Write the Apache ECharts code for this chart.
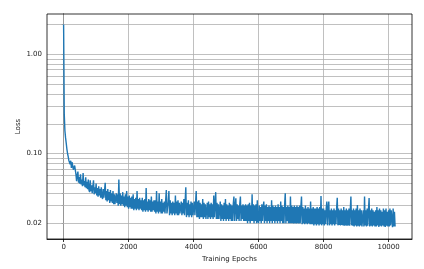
<!DOCTYPE html>
<html>
<head>
<meta charset="utf-8">
<script src="https://cdn.jsdelivr.net/npm/echarts@6/dist/echarts.min.js"></script>
<style>
html,body{margin:0;padding:0;background:#fff;}
#chart{width:424px;height:269px;}
</style>
</head>
<body>
<div id="chart"></div>
<script>
// Sampled every EPOCH_STEP epochs, starting at epoch 0
const EPOCH_STEP = 20;
const lossValues = [
  2.0, 0.25, 0.17, 0.145, 0.128, 0.112, 0.101, 0.094, 0.086, 0.090, 0.078, 0.085, 0.072, 0.082, 0.079, 0.069, 0.066, 0.076, 0.074, 0.062,
  0.053, 0.061, 0.066, 0.051, 0.058, 0.050, 0.062, 0.049, 0.055, 0.047, 0.064, 0.048, 0.053, 0.046, 0.058, 0.045, 0.052, 0.044, 0.055, 0.043,
  0.041, 0.054, 0.042, 0.048, 0.040, 0.047, 0.054, 0.039, 0.046, 0.040, 0.050, 0.038, 0.045, 0.037, 0.047, 0.038, 0.044, 0.036, 0.046, 0.037,
  0.035, 0.044, 0.036, 0.043, 0.051, 0.034, 0.042, 0.033, 0.044, 0.034, 0.041, 0.032, 0.043, 0.033, 0.040, 0.032, 0.042, 0.031, 0.039, 0.031,
  0.031, 0.040, 0.032, 0.039, 0.030, 0.055, 0.031, 0.040, 0.030, 0.038, 0.031, 0.041, 0.030, 0.037, 0.029, 0.039, 0.030, 0.042, 0.029, 0.037,
  0.028, 0.038, 0.029, 0.036, 0.028, 0.037, 0.028, 0.039, 0.027, 0.035, 0.028, 0.036, 0.027, 0.042, 0.028, 0.035, 0.027, 0.036, 0.028, 0.034,
  0.027, 0.036, 0.026, 0.034, 0.027, 0.035, 0.026, 0.045, 0.027, 0.033, 0.026, 0.035, 0.027, 0.034, 0.026, 0.037, 0.026, 0.033, 0.027, 0.034,
  0.026, 0.034, 0.025, 0.042, 0.026, 0.033, 0.025, 0.040, 0.026, 0.033, 0.025, 0.035, 0.025, 0.032, 0.026, 0.033, 0.025, 0.034, 0.043, 0.025,
  0.025, 0.033, 0.042, 0.024, 0.034, 0.025, 0.032, 0.024, 0.033, 0.025, 0.032, 0.024, 0.038, 0.025, 0.033, 0.024, 0.034, 0.024, 0.032, 0.025,
  0.024, 0.033, 0.024, 0.032, 0.025, 0.035, 0.024, 0.033, 0.046, 0.023, 0.032, 0.024, 0.034, 0.023, 0.031, 0.024, 0.033, 0.023, 0.032, 0.024,
  0.023, 0.033, 0.024, 0.032, 0.042, 0.023, 0.033, 0.023, 0.034, 0.022, 0.032, 0.023, 0.031, 0.023, 0.035, 0.022, 0.032, 0.023, 0.031, 0.022,
  0.023, 0.032, 0.022, 0.033, 0.023, 0.031, 0.022, 0.032, 0.023, 0.031, 0.022, 0.038, 0.023, 0.031, 0.041, 0.022, 0.032, 0.022, 0.031, 0.022,
  0.022, 0.033, 0.021, 0.031, 0.022, 0.030, 0.021, 0.032, 0.022, 0.035, 0.021, 0.031, 0.022, 0.030, 0.021, 0.032, 0.022, 0.031, 0.021, 0.030,
  0.021, 0.031, 0.037, 0.021, 0.030, 0.0355, 0.021, 0.031, 0.022, 0.030, 0.021, 0.031, 0.037, 0.021, 0.030, 0.022, 0.031, 0.021, 0.030, 0.021,
  0.031, 0.021, 0.030, 0.020, 0.031, 0.021, 0.032, 0.020, 0.030, 0.021, 0.039, 0.021, 0.031, 0.020, 0.030, 0.021, 0.031, 0.020, 0.034, 0.021,
  0.020, 0.030, 0.021, 0.029, 0.020, 0.031, 0.021, 0.029, 0.033, 0.020, 0.030, 0.021, 0.031, 0.020, 0.029, 0.021, 0.030, 0.020, 0.029, 0.021,
  0.034, 0.020, 0.030, 0.021, 0.029, 0.020, 0.030, 0.021, 0.029, 0.020, 0.031, 0.021, 0.029, 0.020, 0.033, 0.021, 0.030, 0.020, 0.029, 0.020,
  0.030, 0.040, 0.020, 0.029, 0.021, 0.030, 0.020, 0.029, 0.020, 0.037, 0.020, 0.030, 0.020, 0.029, 0.0198, 0.030, 0.020, 0.029, 0.0198, 0.030,
  0.020, 0.029, 0.0198, 0.030, 0.020, 0.029, 0.037, 0.0195, 0.029, 0.020, 0.028, 0.0195, 0.030, 0.020, 0.028, 0.0195, 0.029, 0.020, 0.028, 0.0195,
  0.033, 0.0195, 0.028, 0.0195, 0.029, 0.019, 0.028, 0.0195, 0.028, 0.019, 0.029, 0.0195, 0.028, 0.019, 0.029, 0.0195, 0.0375, 0.019, 0.028, 0.0195,
  0.028, 0.019, 0.027, 0.0195, 0.028, 0.033, 0.019, 0.028, 0.033, 0.019, 0.027, 0.0195, 0.028, 0.019, 0.027, 0.0195, 0.028, 0.019, 0.027, 0.0195,
  0.028, 0.036, 0.019, 0.028, 0.0192, 0.027, 0.019, 0.028, 0.0192, 0.027, 0.019, 0.029, 0.0188, 0.027, 0.019, 0.028, 0.0188, 0.027, 0.019, 0.028,
  0.0188, 0.027, 0.037, 0.019, 0.027, 0.0188, 0.028, 0.0185, 0.027, 0.019, 0.028, 0.0185, 0.0305, 0.0188, 0.027, 0.0185, 0.028, 0.019, 0.027, 0.0185,
  0.0177, 0.027, 0.0185, 0.037, 0.019, 0.027, 0.0185, 0.028, 0.0188, 0.027, 0.0357, 0.0185, 0.027, 0.0188, 0.028, 0.0185, 0.027, 0.019, 0.026, 0.0185,
  0.027, 0.0185, 0.029, 0.019, 0.027, 0.0183, 0.028, 0.0188, 0.027, 0.0185, 0.026, 0.019, 0.028, 0.0185, 0.027, 0.0183, 0.028, 0.0188, 0.026, 0.0185,
  0.027, 0.0185, 0.028, 0.019, 0.027, 0.0272, 0.0182, 0.028, 0.0185, 0.026, 0.0185
];
const xTickValues = [0, 2000, 4000, 6000, 8000, 10000];
const yLabelValues = [0.02, 0.1, 1];
const yGridValues = [0.02, 0.03, 0.04, 0.05, 0.06, 0.07, 0.08, 0.09,
                     0.1, 0.2, 0.3, 0.4, 0.5, 0.6, 0.7, 0.8, 0.9, 1, 2];
const xLabel = 'Training Epochs';
const yLabel = 'Loss';

const seriesData = lossValues.map((v, i) => [i * EPOCH_STEP, v]);
const gridLines = xTickValues.map(v => ({ xAxis: v }))
  .concat(yGridValues.map(v => ({ yAxis: v })));

const FONT = 'DejaVu Sans';
const chart = echarts.init(document.getElementById('chart'), null, { renderer: 'canvas' });
chart.setOption({
  animation: false,
  backgroundColor: '#ffffff',
  grid: { left: 47, right: 12, top: 14, bottom: 30, show: true, borderColor: '#000', borderWidth: 0.8, backgroundColor: 'transparent', z: 3 },
  xAxis: {
    type: 'value', min: -511, max: 10720,
    name: xLabel, nameLocation: 'middle', nameGap: 14,
    nameTextStyle: { fontFamily: FONT, fontSize: 7, color: '#222' },
    axisLine: { show: true, lineStyle: { color: '#000', width: 0.8 } },
    axisTick: { show: true, customValues: xTickValues, length: 3, lineStyle: { color: '#000', width: 0.8 } },
    axisLabel: { customValues: xTickValues, margin: 5, fontFamily: FONT, fontSize: 7, color: '#222',
      formatter: v => String(Math.round(v)) },
    splitLine: { show: false }
  },
  yAxis: {
    type: 'log', logBase: 10, min: 0.01385, max: 2.544,
    name: yLabel, nameLocation: 'middle', nameGap: 25, nameRotate: 90, nameMoveOverlap: false,
    nameTextStyle: { fontFamily: FONT, fontSize: 7, color: '#222' },
    axisLine: { show: true, lineStyle: { color: '#000', width: 0.8 } },
    axisTick: { show: true, customValues: yGridValues, length: 2, lineStyle: { color: '#000', width: 0.6 } },
    axisLabel: { customValues: yLabelValues, margin: 5, fontFamily: FONT, fontSize: 7, color: '#222',
      formatter: v => Number(v).toFixed(2) },
    splitLine: { show: false },
    minorTick: { show: false }, minorSplitLine: { show: false }
  },
  series: [{
    type: 'line',
    data: seriesData,
    showSymbol: false,
    symbol: 'none',
    sampling: false,
    z: 2,
    lineStyle: { color: '#1f77b4', width: 1.4 },
    markLine: {
      silent: true, symbol: 'none', z: 1, animation: false,
      label: { show: false },
      lineStyle: { color: '#b0b0b0', width: 0.8, type: 'solid' },
      emphasis: { disabled: true },
      data: gridLines
    }
  }]
});
</script>
</body>
</html>
